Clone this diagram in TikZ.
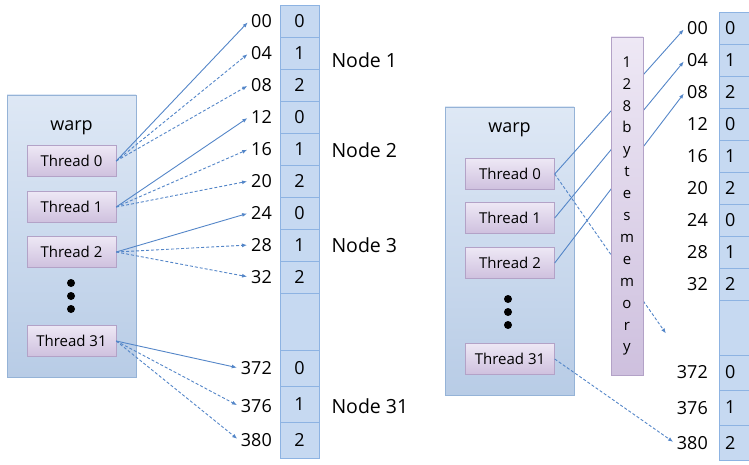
\documentclass[tikz,border=0pt]{standalone}
\usepackage{fontspec}
\setmainfont{Open Sans}
\usetikzlibrary{arrows.meta}

\definecolor{linkblue}{RGB}{84,134,200}
\definecolor{warpline}{RGB}{149,179,215}
\definecolor{warptop}{RGB}{222,232,245}
\definecolor{warpbot}{RGB}{184,204,230}
\definecolor{thrline}{RGB}{179,162,199}
\definecolor{thrtop}{RGB}{238,232,245}
\definecolor{thrbot}{RGB}{206,192,222}
\definecolor{cellline}{RGB}{141,179,226}
\definecolor{cellfill}{RGB}{198,217,241}

\tikzset{
  link/.style={draw=linkblue,line width=0.9pt,-{Latex[length=5pt,width=4pt]},shorten >=2pt},
  dlink/.style={link,densely dashed}
}

\begin{document}
\begin{tikzpicture}[x=1pt,y=-1pt]

      \clip (0,0) rectangle (749,465);

      \begin{scope}[every node/.style={draw=warpline,top color=warptop,bottom color=warpbot,minimum width=129pt,inner sep=0pt}]
        \node[minimum height=282pt] (warpL) at (71.5,236) {};
        \node[minimum height=288pt] (warpR) at (509.5,251) {};
      \end{scope}
      \node[font=\fontsize{18}{20}\selectfont] (wl) at (71.5,128) {warp};
      \node[font=\fontsize{18}{20}\selectfont] (wr) at (509.5,130) {warp};

      \begin{scope}[every node/.style={draw=thrline,top color=thrtop,bottom color=thrbot,minimum width=89pt,minimum height=31pt,inner sep=0pt,font=\fontsize{15}{17}\selectfont}]
        \node (t0) at (71.5,161) {Thread 0};
        \node (t1) at (71.5,207) {Thread 1};
        \node (t2) at (71.5,252) {Thread 2};
        \node (t31) at (71.5,341) {Thread 31};
        \node (r0) at (510,174) {Thread 0};
        \node (r1) at (510,218) {Thread 1};
        \node (r2) at (510,263) {Thread 2};
        \node (r31) at (510,359) {Thread 31};
      \end{scope}

      \foreach \y in {283,296,309} \fill (71,\y) circle (4);
      \foreach \y in {299,312,325} \fill (508,\y) circle (4);

      % memory cells, left
      \begin{scope}[every node/.style={draw=cellline,fill=cellfill,minimum width=39pt,minimum height=32pt,inner sep=0pt,font=\fontsize{18}{20}\selectfont}]
        \foreach \v [count=\i] in {0,1,2,0,1,2,0,1,2}
          \node (c\i) at (299.5,32*\i-11) {\v};
        \node[minimum height=57pt] (cgap) at (299.5,321.5) {};
        \node[minimum height=36pt] (c10) at (299.5,368) {0};
        \node[minimum height=36pt] (c11) at (299.5,404) {1};
        \node[minimum height=36pt] (c12) at (299.5,440) {2};
      \end{scope}

      % memory cells, right
      \begin{scope}[every node/.style={draw=cellline,fill=cellfill,minimum width=40pt,minimum height=32pt,inner sep=0pt,font=\fontsize{18}{20}\selectfont}]
        \foreach \v [count=\i] in {0,1,2,0,1,2,0,1,2}
          \node[anchor=west,text width=28pt,align=left,inner xsep=6pt] (e\i) at (719,32*\i-4) {\v};
        \node[anchor=west,minimum height=55pt] (egap) at (719,327.5) {};
        \node[anchor=west,minimum height=35pt,text width=28pt,align=left,inner xsep=6pt] (e10) at (719,372.5) {0};
        \node[anchor=west,minimum height=35pt,text width=28pt,align=left,inner xsep=6pt] (e11) at (719,407.5) {1};
        \node[anchor=west,minimum height=35pt,text width=28pt,align=left,inner xsep=6pt] (e12) at (719,442.5) {2};
      \end{scope}

      % addresses
      \begin{scope}[every node/.style={anchor=east,inner sep=2pt,font=\fontsize{18}{20}\selectfont}]
        \foreach \a/\y in {00/21,04/53,08/85,12/117,16/149,20/181,24/213,28/245,32/277,372/368,376/406,380/440}
          \node (a\a) at (274,\y) {\a};
        \foreach \a/\y in {00/28,04/60,08/92,12/124,16/156,20/188,24/220,28/252,32/284,372/372,376/408,380/443}
          \node (b\a) at (710,\y) {\a};
      \end{scope}

      \begin{scope}[every node/.style={anchor=west,font=\fontsize{19.5}{22}\selectfont}]
        \node (n1) at (328,60) {Node 1};
        \node (n2) at (328,150) {Node 2};
        \node (n3) at (328,245) {Node 3};
        \node (n31) at (328,406) {Node 31};
      \end{scope}

      \coordinate (gapR) at (667,335);

      \path (t0.east) edge[link] (a00.west);
      \path (t0.east) edge[dlink] (a04.west);
      \path (t0.east) edge[dlink] (a08.west);
      \path (t1.east) edge[link] (a12.west);
      \path (t1.east) edge[dlink] (a16.west);
      \path (t1.east) edge[dlink] (a20.west);
      \path (t2.east) edge[link] (a24.west);
      \path (t2.east) edge[dlink] (a28.west);
      \path (t2.east) edge[dlink] (a32.west);
      \path (t31.east) edge[link] (a372.west);
      \path (t31.east) edge[dlink] (a376.west);
      \path (t31.east) edge[dlink] (a380.west);

      \path (r0.east) edge[link] (b00.west);
      \path (r1.east) edge[link] (b04.west);
      \path (r2.east) edge[link] (b08.west);
      \path (r0.east) edge[dlink] (gapR);
      \path (r31.east) edge[dlink] (b380.west);

      % 128 bytes memory
      \node[draw=thrline,top color=thrtop,bottom color=thrbot,minimum width=32pt,minimum height=338pt,inner sep=0pt,align=center,
            font=\fontsize{15}{21.9}\selectfont] (mem) at (627,206)
        {1\\2\\8\\b\\y\\t\\e\\s\\m\\e\\m\\o\\r\\y};

\end{tikzpicture}
\end{document}
